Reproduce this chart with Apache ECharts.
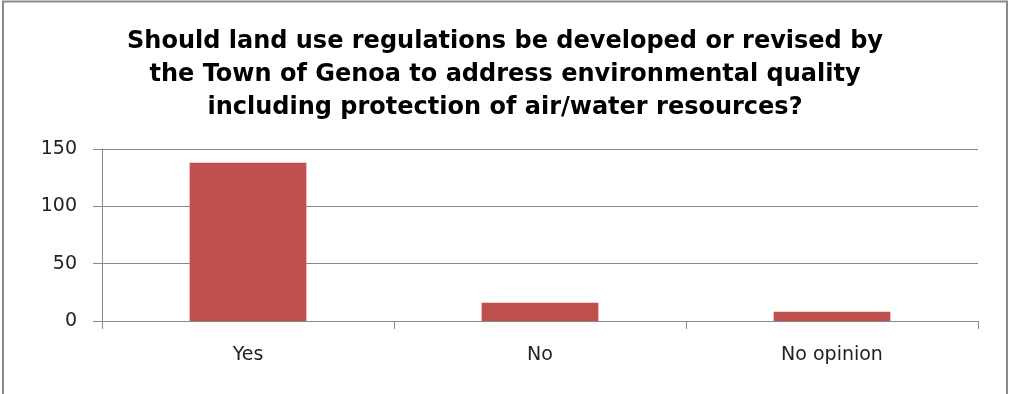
<!DOCTYPE html>
<html><head><meta charset="utf-8">
<script src="https://cdn.jsdelivr.net/npm/echarts@6/dist/echarts.min.js"></script>
<style>html,body{margin:0;padding:0;background:#fff}#c{width:1010px;height:394px}</style>
</head><body><div id="c"></div>
<script>
var categories = ['Yes', 'No', 'No opinion'];
var values = [138, 16, 8];
var yTicks = [0, 50, 100, 150];
var titleText = 'Should land use regulations be developed or revised by\nthe Town of Genoa to address environmental quality\nincluding protection of air/water resources?';

var chart = echarts.init(document.getElementById('c'));
chart.setOption({
  animation: false,
  title: {
    text: titleText, left: 'center', top: 20,
    textStyle: { fontFamily: 'DejaVu Sans', fontWeight: 'bold', fontSize: 24, lineHeight: 33, color: '#000' }
  },
  graphic: [{ type: 'rect', shape: { x: 3, y: 1.5, width: 1004, height: 400 }, style: { fill: 'none', stroke: '#8a8a8a', lineWidth: 2 }, silent: true }],
  grid: { left: 102, right: 32, top: 149, bottom: 73 },
  xAxis: {
    type: 'category', data: categories,
    axisLine: { lineStyle: { color: '#888', width: 1 } },
    axisTick: { show: true, alignWithLabel: false, length: 8, lineStyle: { color: '#888' } },
    axisLabel: { color: '#222', fontFamily: 'DejaVu Sans', fontSize: 19, margin: 25 }
  },
  yAxis: {
    type: 'value', min: yTicks[0], max: yTicks[yTicks.length - 1], interval: 50,
    axisLine: { show: true, lineStyle: { color: '#888' } },
    axisTick: { show: true, length: 9, lineStyle: { color: '#888' } },
    splitLine: { lineStyle: { color: '#888' } },
    axisLabel: { color: '#222', fontFamily: 'DejaVu Sans', fontSize: 19, margin: 25 }
  },
  series: [{ type: 'bar', data: values, barWidth: '40%', itemStyle: { color: '#C0504D' } }]
});
</script></body></html>
